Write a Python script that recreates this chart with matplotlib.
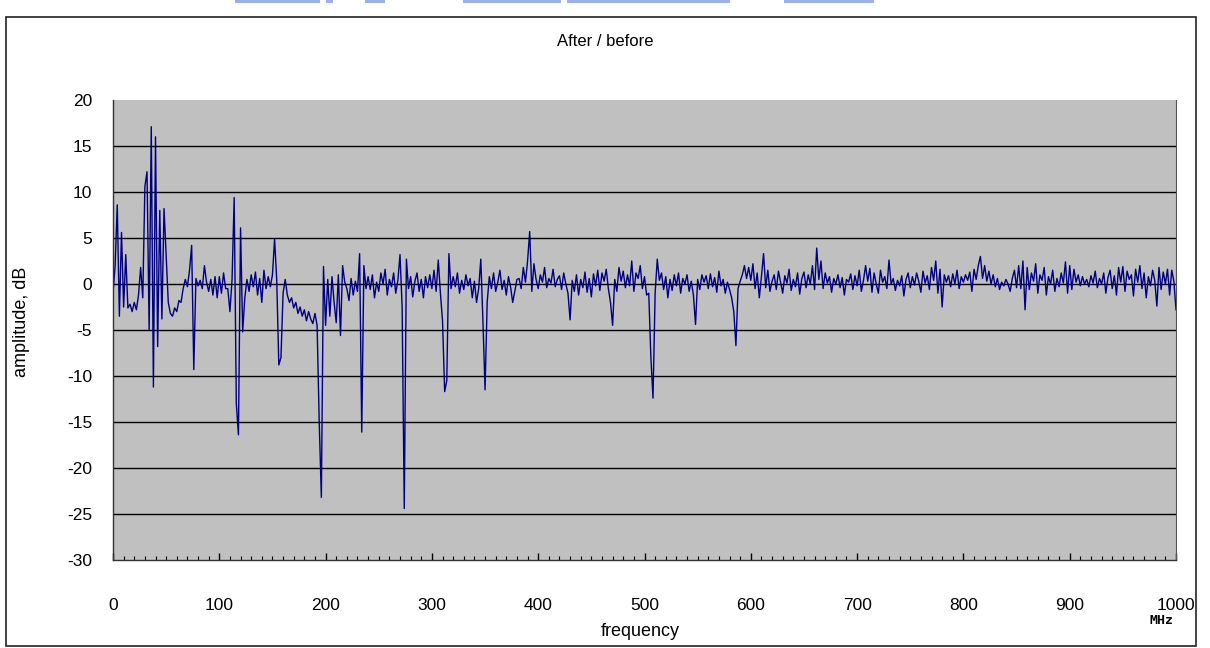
import matplotlib

matplotlib.use("Agg")
import matplotlib.pyplot as plt
import numpy as np
from matplotlib.patches import Rectangle

plt.rcParams["font.family"] = ["Liberation Sans", "DejaVu Sans"]
plt.rcParams["axes.unicode_minus"] = False

# frequency grid, MHz (one sample every 2 MHz)
FREQ_STEP = 2.0
FREQ_MAX = 1000

# after / before amplitude ratio, dB (25 values per 50 MHz)
amplitude = [
    -1.0, 2.0, 8.6, -3.5, 5.6, -2.5, 3.2, -2.6, -2.2, -3.0, -2.0, -2.8, -1.2,
    1.8, -1.5, 10.6, 12.2, -5.0, 17.1, -11.2, 16.0, -6.8, 8.0, -3.8, 8.2,
    3.0, -2.0, -3.2, -3.5, -2.6, -3.0, -1.8, -2.0, -0.5, 0.5, -0.3, 1.5, 4.2,
    -9.3, 0.6, -0.2, 0.4, -0.5, 2.0, 0.2, -0.8, 0.5, -1.2, 0.8, -1.5,
    0.8, -1.0, 1.2, -0.5, -0.5, -3.0, 0.5, 9.4, -13.0, -16.4, 6.1, -5.2, -1.5,
    0.5, -0.8, 1.0, -0.3, 1.3, -1.2, 0.6, -2.0, 1.5, -0.5, 0.8, -0.3,
    1.0, 4.9, 0.5, -8.8, -8.0, -1.0, 0.5, -1.2, -2.0, -1.5, -2.6, -2.0, -3.2,
    -2.5, -3.5, -2.8, -4.0, -3.0, -3.8, -4.3, -3.2, -4.5, -15.0, -23.2, 1.9,
    -4.5, 0.5, -3.5, 0.8, -2.0, -4.2, 1.0, -5.6, 2.0, 0.2, -0.5, -1.8, 0.6,
    -1.2, 0.3, -0.8, 3.3, -16.1, 2.0, -0.5, 0.8, -0.6, 1.0, -1.5, 0.2,
    -0.8, 1.2, 0.0, 1.6, -1.2, 0.5, -0.3, 1.2, -1.0, 0.4, 3.2, -2.5, -24.4,
    2.7, -0.5, 0.8, -1.4, 0.3, 1.2, -0.8, 0.5, -1.5, 0.8, -0.4, 1.0,
    -0.5, 1.5, -0.8, 2.6, -1.0, -4.0, -11.7, -10.5, 3.3, -0.5, 0.8, -0.3, 1.2,
    -1.0, 0.4, -0.6, 1.0, -0.2, 0.6, -1.5, 0.3, -2.0, -0.5, 2.7, -4.0,
    -11.5, -2.0, 0.8, -0.5, 1.2, -0.8, 0.2, 1.5, -0.6, 0.4, -1.2, 0.8, -0.3,
    -2.0, -0.8, 0.5, 0.6, -0.5, 1.8, 0.2, 2.5, 5.7, -0.8, 2.2, 0.5,
    -0.5, 1.0, 0.2, 1.8, -0.4, 0.6, 0.1, 1.6, -0.3, 0.5, 0.9, -0.6, 1.2,
    0.0, -1.0, -3.9, 0.4, -0.8, 1.0, -1.2, 0.5, -0.4, 1.3, -0.9, 0.6,
    -1.4, 1.1, -0.2, 1.5, -0.7, 1.2, 0.3, 1.6, -0.5, -2.0, -4.5, 0.5, -0.8,
    1.8, 0.3, 1.4, -0.4, 1.0, -0.2, 2.5, -0.8, 1.2, 0.6, 2.0, -0.5,
    0.8, -1.2, -1.0, -8.0, -12.4, -1.0, 2.7, 0.4, 1.2, -0.6, 0.8, -1.5, 0.5,
    -0.7, 1.0, -0.2, 1.2, -1.0, 0.6, 0.0, 1.0, -0.8, 0.3, -1.2, -4.4,
    0.5, -0.6, 1.0, 0.2, 0.9, -0.5, 1.1, -0.3, 0.7, -0.9, 1.4, -0.2, 0.5,
    -1.0, 0.2, -0.6, -1.5, -3.0, -6.7, -0.5, 0.3, 1.0, 2.0, 0.6, 1.8,
    0.4, 2.2, -0.5, 1.2, -1.5, 0.8, 3.3, -0.4, 1.5, -0.8, 0.3, 1.0, -0.6,
    1.4, 0.2, -1.0, 0.9, 0.1, 1.6, -0.7, 0.5, -0.3, 1.2, -1.1, 0.6,
    1.3, -0.4, 1.0, 0.0, 2.0, -0.6, 3.9, 0.5, 2.5, -0.5, 1.2, 0.1, 0.8,
    -0.9, 0.6, 0.0, 1.0, -0.4, 0.7, -1.2, 0.5, 0.2, 1.1, -0.6, 0.9,
    -0.2, 1.5, -0.8, 0.4, 2.0, 0.3, 1.7, -0.9, 1.2, 0.0, -1.0, 1.5, 0.2,
    0.8, -0.5, 2.6, 0.0, 0.6, -0.7, 0.4, -0.2, 0.9, -1.3, 0.5, 1.2,
    -0.4, 0.8, -0.1, 1.2, 0.3, -0.9, 1.4, 0.1, 0.9, -0.6, 1.8, 0.4, 2.5,
    -1.0, 1.6, -2.5, 1.0, 0.2, 0.9, -0.3, 1.1, 0.0, 1.5, -0.5, 0.8,
    0.2, 1.0, 0.4, 1.3, -0.8, 1.6, 0.5, 2.0, 3.0, 0.6, 2.0, 0.3, 1.4,
    0.0, 1.0, -0.3, 0.6, -0.6, 0.2, -0.2, 0.5, 0.0, -0.8, 0.6, 1.5,
    -0.4, 2.0, -0.5, 2.5, -2.8, 1.8, -0.6, 1.2, 0.3, 2.2, -1.0, 1.0, 0.4,
    1.8, -1.2, 0.8, 0.0, 1.5, -0.8, 0.6, -0.3, 1.2, 0.1, 2.4, -1.0,
    2.0, -0.6, 1.6, 0.2, 1.0, -0.2, 0.8, 0.0, 0.5, -0.3, 0.9, 0.1, 1.4,
    -0.4, 0.6, 0.0, 1.2, -1.0, 0.7, 1.5, -0.5, 0.9, -1.2, 1.8, 0.2,
    1.9, -0.8, 1.4, 0.5, 1.0, -1.3, 1.6, 0.2, 2.0, -0.5, 1.2, -1.5, 0.8,
    -0.2, 1.5, 0.4, -2.4, 1.8, -0.6, 1.3, 0.0, 1.6, -1.2, 1.5, 0.3,
    -2.8,
]
frequency = np.arange(len(amplitude)) * FREQ_STEP

x_ticks = list(range(0, 1001, 100))
y_ticks = list(range(-30, 21, 5))

W, H = 1210, 648
fig = plt.figure(figsize=(W / 100, H / 100), dpi=100)

# clipped hyperlinks peeking in at the very top of the screenshot
for x0, x1 in [(235, 320), (326, 333), (365, 385), (463, 561), (567, 730), (784, 874)]:
    fig.patches.append(
        Rectangle((x0 / W, 1 - 3 / H), (x1 - x0) / W, 3 / H,
                  transform=fig.transFigure, facecolor="#9fb0e6", edgecolor="none")
    )

# chart border
fig.patches.append(
    Rectangle((6 / W, 1 - 646 / H), (1196 - 6) / W, (646 - 17) / H,
              transform=fig.transFigure, facecolor="none", edgecolor="#222222", lw=1.2)
)

ax = fig.add_axes([113 / W, 1 - 560 / H, (1176 - 113) / W, (560 - 100) / H])
ax.set_facecolor("#c0c0c0")
ax.plot(frequency, amplitude, color="#000080", lw=1.0)

ax.set_xlim(0, FREQ_MAX)
ax.set_ylim(-30, 20)
ax.set_xticks(x_ticks)
ax.set_xticks(np.arange(0, 1001, 10), minor=True)
ax.set_yticks(y_ticks)
for yv in y_ticks[1:-1]:
    ax.axhline(yv, color="black", lw=1.0, zorder=1)

for side in ["left", "bottom"]:
    ax.spines[side].set_color("#333333")
    ax.spines[side].set_linewidth(1.0)
ax.spines["right"].set_color("#555555")
ax.spines["top"].set_visible(False)

ax.tick_params(axis="x", which="major", direction="in", length=5, width=1,
               pad=27, labelsize=12.5)
ax.tick_params(axis="x", which="minor", direction="in", length=3, width=0.8)
ax.tick_params(axis="y", which="major", direction="in", length=0, pad=15,
               labelsize=12.5)

fig.text(605 / W, 1 - 42 / H, "After / before", ha="center", va="center", fontsize=12)
fig.text(22 / W, 1 - 322 / H, "amplitude, dB", ha="center", va="center",
         rotation=90, fontsize=13)
fig.text(640 / W, 1 - 632 / H, "frequency", ha="center", va="center", fontsize=13)
fig.text(1162 / W, 1 - 620 / H, "MHz", ha="center", va="center", fontsize=9.5,
         family="DejaVu Sans Mono", fontweight="bold")

fig.savefig("out.png", dpi=100)
